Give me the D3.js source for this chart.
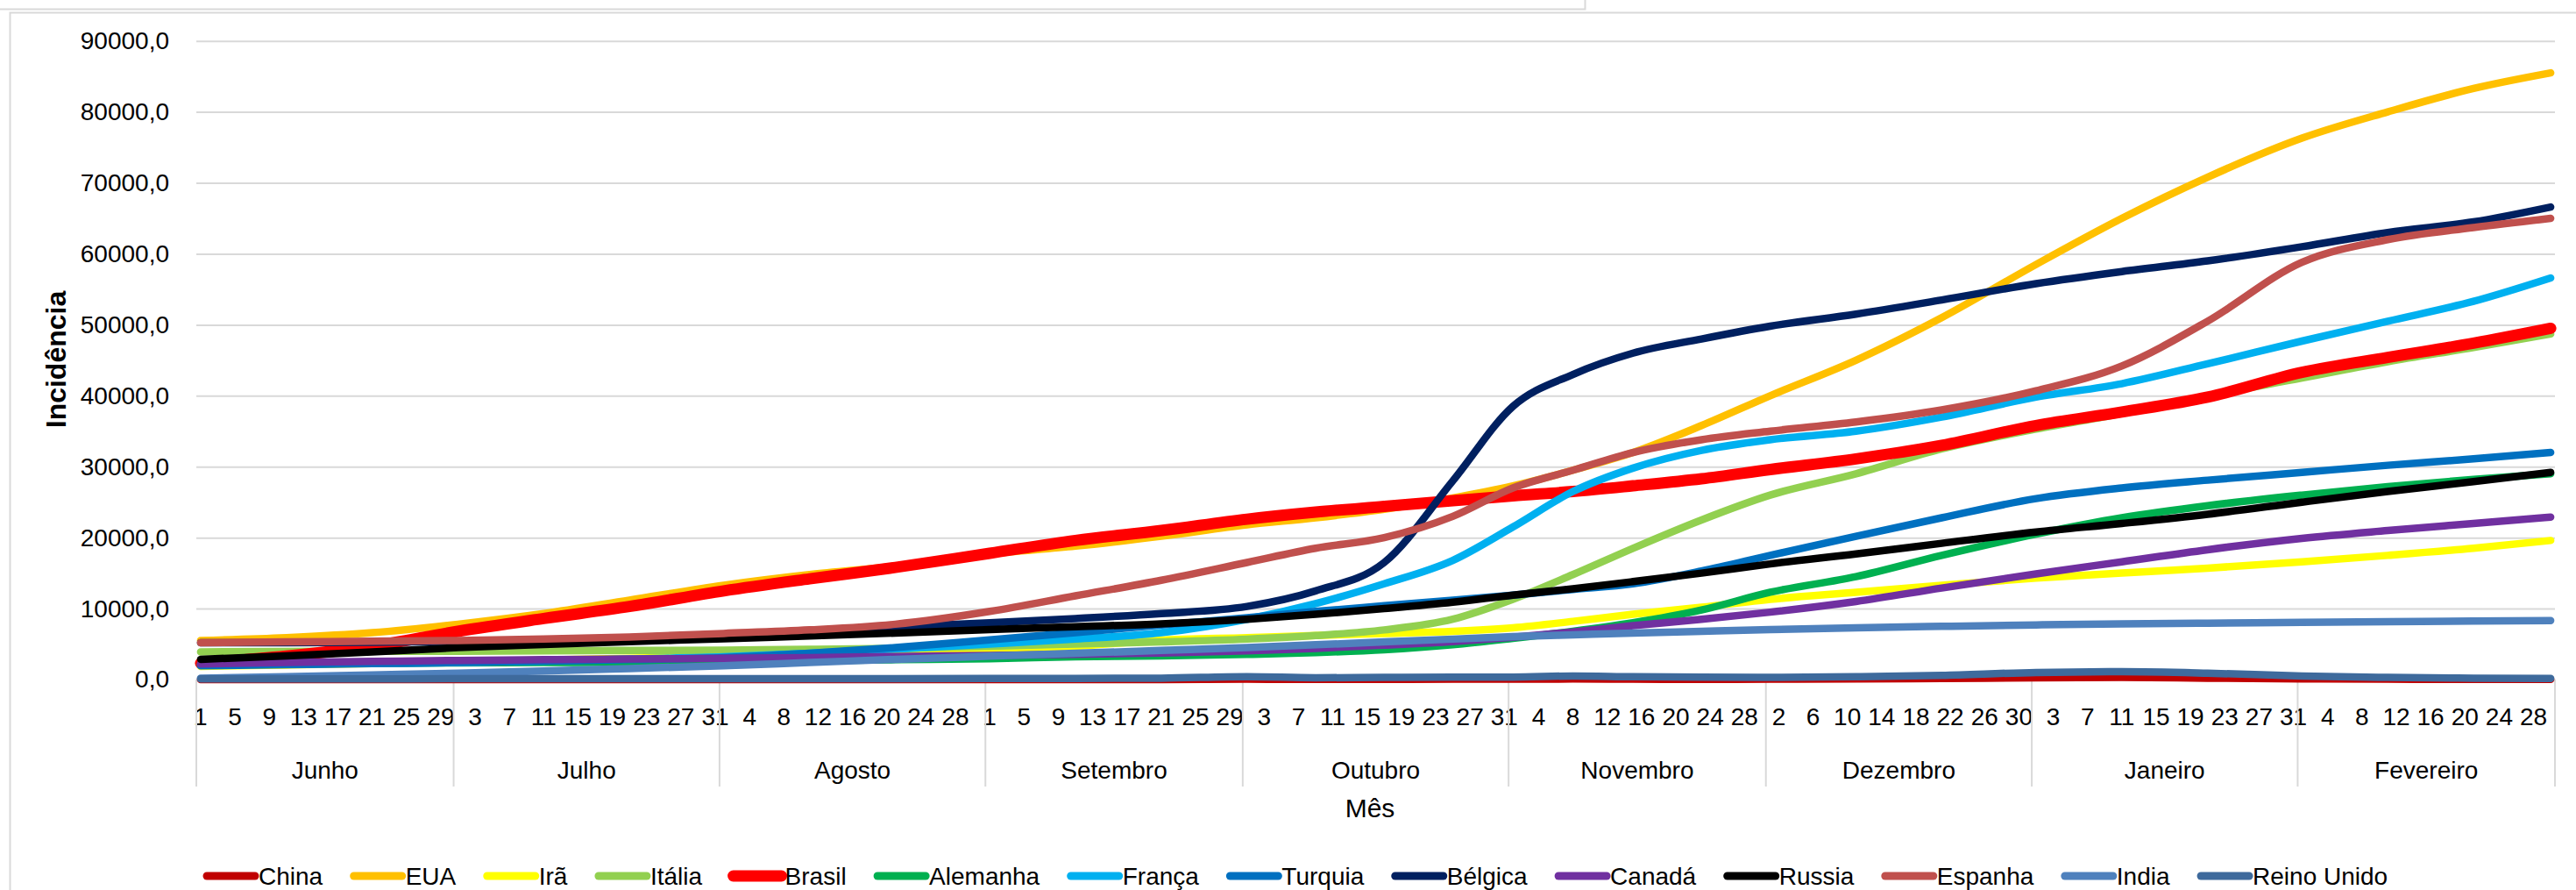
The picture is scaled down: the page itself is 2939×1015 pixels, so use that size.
<!DOCTYPE html>
<html><head><meta charset="utf-8">
<script src="https://cdn.jsdelivr.net/npm/d3@7/dist/d3.min.js"></script>
<style>
body{margin:0;background:#fff;}
svg{display:block;font-family:"Liberation Sans",Arial,sans-serif;}
</style>
</head><body>
<svg id="chart" width="2939" height="1015"></svg>
<script>
// ---------- DATA ----------
const months = ["Junho","Julho","Agosto","Setembro","Outubro","Novembro","Dezembro","Janeiro","Fevereiro"];
const monthDays = [30,31,31,30,31,30,31,31,30];
const yTicks = [0,10000,20000,30000,40000,50000,60000,70000,80000,90000];
const seriesNames = ["China","EUA","Irã","Itália","Brasil","Alemanha","França","Turquia","Bélgica","Canadá","Russia","Espanha","India","Reino Unido"];
const seriesColors = ["#C00000","#FFC000","#FFFF00","#92D050","#FF0000","#00B050","#00B0F0","#0070C0","#002060","#7030A0","#000000","#C0504D","#4F81BD","#3E6A9C"];
// category index (0 = 1 Junho) at which values were read
const sampleIdx = [0,10,20,30,40,50,61,71,81,92,102,112,122,130,138,146,153,160,167,175,183,193,203,214,224,234,245,255,265,274];

const china      = [0,0,0,0,0,0,0,0,0,0,0,0,50,20,20,50,50,80,50,30,50,80,150,250,300,200,100,50,30,20];
const eua        = [5500,5900,6600,7800,9300,11200,13300,14800,16000,17700,18800,20200,21800,22800,24000,25600,27300,29500,32000,35800,40000,45000,51000,58500,65000,70800,76300,80000,83300,85500];
const ira        = [1850,2050,2250,2500,2750,3000,3300,3600,3900,4250,4700,5550,5900,6200,6500,6800,7300,8200,9200,10200,11300,12300,13300,14300,15000,15700,16600,17500,18500,19600];
const italia     = [3900,3950,4000,4000,4050,4100,4150,4250,4400,4700,5000,5300,5700,6200,7000,8500,11300,14800,18500,22500,26000,29000,32500,35300,37500,40000,42500,44800,46800,48700];
const brasil     = [2300,3300,4700,6800,8600,10300,12500,14200,15800,17800,19600,21000,22600,23600,24400,25200,25900,26500,27300,28300,29600,31100,33000,35800,37700,39800,43300,45400,47400,49500];
const alemanha   = [2200,2250,2300,2350,2400,2450,2550,2650,2800,2950,3200,3350,3550,3800,4200,4900,5800,6800,8000,9800,12300,14500,17500,20500,22800,24500,26000,27200,28200,29000];
const franca     = [2100,2200,2300,2400,2600,2900,3200,3700,4300,5000,5700,6600,8500,10700,13500,16800,21500,26500,29800,32300,33800,35000,37000,39800,41700,44500,47700,50500,53300,56600];
const turquia    = [1950,2100,2250,2400,2600,2800,3100,3700,4500,5600,6600,7700,8700,9600,10400,11200,11900,12700,13500,15300,17500,20200,22800,25500,27000,28100,29200,30200,31100,32000];
const belgica    = [5200,5200,5250,5400,5600,5900,6400,6900,7400,8000,8600,9300,10300,12500,16500,28000,38500,43000,46000,48000,49800,51500,53500,55800,57500,59000,61000,63000,64500,66600];
const canada     = [2200,2400,2550,2700,2800,2900,3000,3100,3250,3400,3550,3750,4050,4400,4850,5350,5950,6700,7600,8500,9500,11000,12900,14900,16600,18300,19900,21000,22000,22900];
const russia     = [2850,3350,3900,4500,4950,5350,5750,6150,6550,7050,7450,7850,8500,9200,10000,10900,11900,12800,13800,15000,16300,17700,19200,20800,22000,23300,25000,26500,27900,29200];
const espanha    = [5200,5300,5400,5500,5700,6000,6500,7000,7800,9600,11800,14000,16500,18500,20000,23000,27000,29500,32000,33800,35000,36300,38000,40700,44200,50500,58800,62000,63700,65000];
const india      = [200,400,650,900,1200,1550,1950,2400,2850,3300,3700,4100,4500,4900,5300,5700,6050,6300,6550,6800,7050,7300,7500,7700,7850,7950,8050,8150,8250,8300];
const reinoUnido = [100,100,100,110,110,120,120,130,130,140,160,200,400,250,300,350,350,500,400,350,300,400,600,1000,1100,900,500,300,200,150];

const seriesValues = [china,eua,ira,italia,brasil,alemanha,franca,turquia,belgica,canada,russia,espanha,india,reinoUnido];

// ---------- LAYOUT ----------
const svg = d3.select("#chart");
const X0 = 224, X1 = 2915, Y0 = 775, Y1 = 46.7;

const cats = [];
months.forEach((m, mi) => { for (let d = 1; d <= monthDays[mi]; d++) cats.push({i: cats.length, day: d, month: mi}); });
const x = d3.scaleBand().domain(cats.map(c => c.i)).range([X0, X1]).padding(0);
const bw = x.bandwidth();
const cx = i => x(i) + bw / 2;
const y = d3.scaleLinear().domain([0, 90000]).range([Y0, Y1]);

const GRID = "#D9D9D9";

svg.append("path").attr("d", "M0,10.5H1808.5V0").attr("fill","none").attr("stroke",GRID).attr("stroke-width",2);
svg.append("path").attr("d", "M2939,14.5H11.5V1015").attr("fill","none").attr("stroke",GRID).attr("stroke-width",2);

const yAxis = d3.axisLeft(y).tickValues(yTicks)
  .tickFormat(d => d3.format(".1f")(d).replace(".", ","))
  .tickSizeInner(-(X1 - X0)).tickSizeOuter(0).tickPadding(31);
const gy = svg.append("g").attr("transform", `translate(${X0},0)`).call(yAxis);
gy.select(".domain").remove();
gy.selectAll(".tick line").attr("stroke", GRID).attr("stroke-width", 2)
  .filter(d => d === 0).remove();
gy.selectAll(".tick text").attr("font-size", 28).attr("fill", "#000")
  .attr("font-family", "'Liberation Sans',Arial,sans-serif");

const xAxis = d3.axisBottom(x).tickValues(cats.filter(c => c.i % 4 === 0).map(c => c.i))
  .tickFormat(i => cats[i].day).tickSize(0).tickPadding(32);
const gx = svg.append("g").attr("transform", `translate(0,${Y0})`).call(xAxis);
gx.select(".domain").attr("stroke", GRID).attr("stroke-width", 2);
gx.selectAll(".tick text").attr("font-size", 28).attr("fill", "#000")
  .attr("font-family", "'Liberation Sans',Arial,sans-serif");

const monthStarts = [];
let acc = 0;
monthDays.forEach(n => { monthStarts.push(acc); acc += n; });
const bounds = monthStarts.map(s => x(s)).concat([X1]);
svg.append("g").selectAll("line").data(bounds).join("line")
  .attr("x1", d => d).attr("x2", d => d).attr("y1", Y0).attr("y2", 897)
  .attr("stroke", GRID).attr("stroke-width", 2);
svg.append("g").selectAll("text").data(months).join("text")
  .attr("x", (d, k) => (bounds[k] + bounds[k + 1]) / 2).attr("y", 888)
  .attr("text-anchor", "middle").attr("font-size", 28).attr("fill", "#000").text(d => d);

svg.append("text").attr("x", 1563).attr("y", 932).attr("text-anchor", "middle")
  .attr("font-size", 30).attr("fill", "#000").text("Mês");
svg.append("text").attr("transform", "translate(75,410) rotate(-90)").attr("text-anchor", "middle")
  .attr("font-size", 32).attr("font-weight", "bold").attr("fill", "#000").text("Incidência");

const line = d3.line().x(d => cx(d[0])).y(d => y(d[1])).curve(d3.curveMonotoneX);
const gl = svg.append("g").attr("fill", "none").attr("stroke-linecap", "round").attr("stroke-linejoin", "round");
seriesNames.forEach((name, k) => {
  const pts = sampleIdx.map((idx, j) => [idx, seriesValues[k][j]]);
  gl.append("path").datum(pts).attr("d", line)
    .attr("stroke", seriesColors[k]).attr("stroke-width", name === "Brasil" ? 13 : 8.5);
});

const lg = svg.append("g");
let lx = 236;
const LY = 999;
seriesNames.forEach((name, k) => {
  lg.append("line").attr("x1", lx).attr("x2", lx + 55).attr("y1", LY).attr("y2", LY)
    .attr("stroke", seriesColors[k]).attr("stroke-width", name === "Brasil" ? 13 : 9).attr("stroke-linecap", "round");
  const t = lg.append("text").attr("x", lx + 59).attr("y", LY + 10).attr("font-size", 28).attr("fill", "#000").text(name);
  lx += 59 + t.node().getComputedTextLength() + 35.5;
});
</script>
</body></html>
